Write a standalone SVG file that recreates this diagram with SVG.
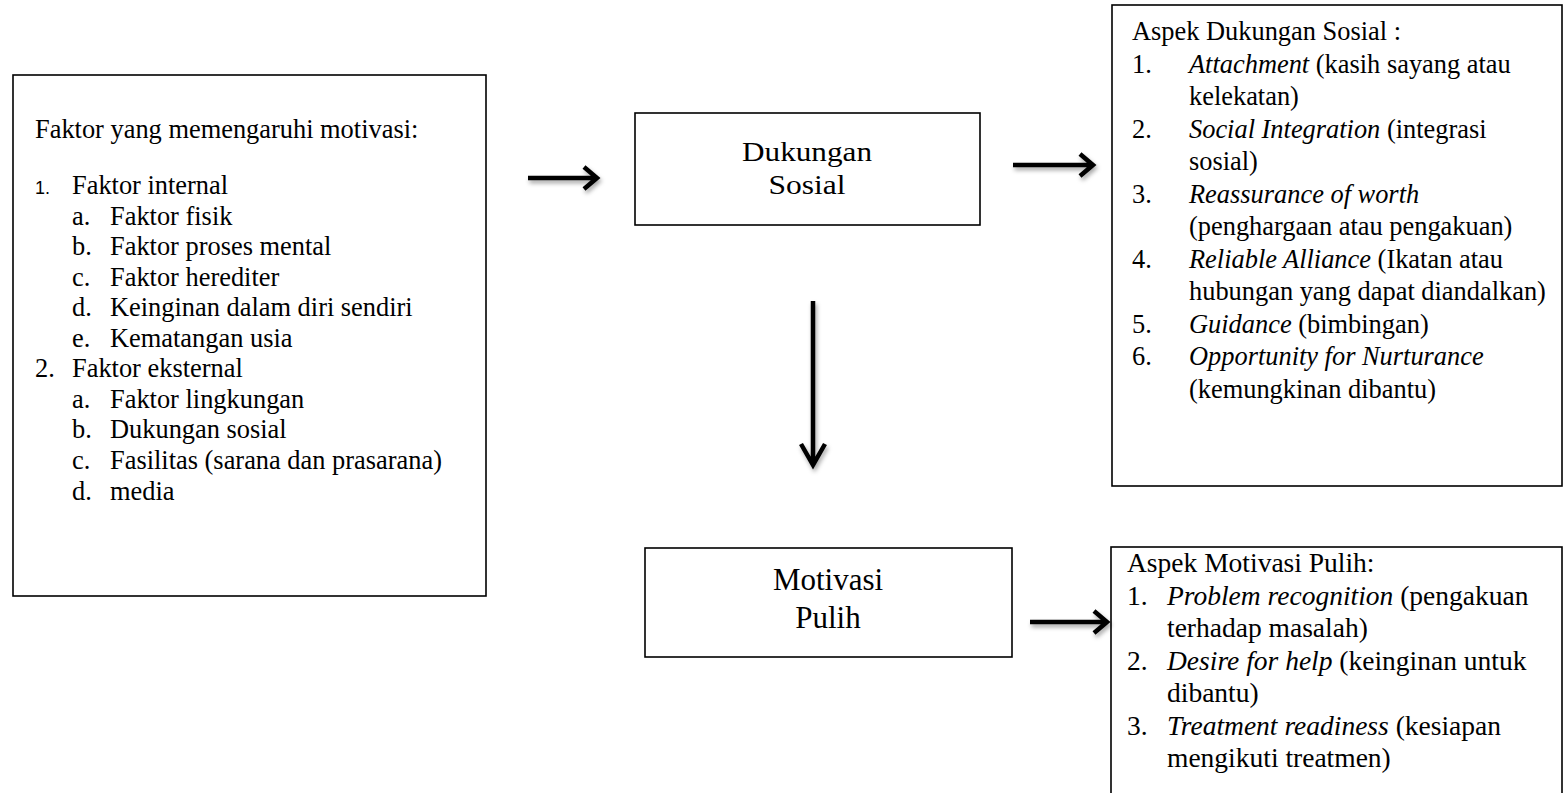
<svg xmlns="http://www.w3.org/2000/svg" width="1565" height="793" viewBox="0 0 1565 793">
<style>
.box{fill:#fff;stroke:#000;stroke-width:1.6}
.t{font-family:"Liberation Serif","Times New Roman",serif;font-size:26.4px;fill:#000}
.b{font-size:27.5px}
.n{font-family:"Liberation Sans",Arial,sans-serif;font-size:18px;fill:#000}
.i{font-style:italic}
.m{font-family:"Liberation Serif","Times New Roman",serif;font-size:31px;fill:#000;text-anchor:middle}
.arr{fill:none;stroke:#000;stroke-width:4.5;stroke-linecap:butt;stroke-linejoin:miter}
</style>
<defs>
<filter id="sh" x="-20%" y="-50%" width="140%" height="200%">
<feDropShadow dx="1.5" dy="3" stdDeviation="2" flood-color="#000" flood-opacity="0.35"/>
</filter>
</defs>
<rect width="1565" height="793" fill="#fff"/>

<g id="faktor">
<rect class="box" x="13" y="75" width="473" height="521" stroke-width="2.2"/>
<text class="t" x="35" y="138">Faktor yang memengaruhi motivasi:</text>
<text class="n" x="35" y="194">1.</text>
<text class="t" x="72" y="194">Faktor internal</text>
<text class="t" x="72" y="224.5">a.</text><text class="t" x="110" y="224.5">Faktor fisik</text>
<text class="t" x="72" y="255">b.</text><text class="t" x="110" y="255">Faktor proses mental</text>
<text class="t" x="72" y="285.6">c.</text><text class="t" x="110" y="285.6">Faktor herediter</text>
<text class="t" x="72" y="316.2">d.</text><text class="t" x="110" y="316.2">Keinginan dalam diri sendiri</text>
<text class="t" x="72" y="346.7">e.</text><text class="t" x="110" y="346.7">Kematangan usia</text>
<text class="t" x="35" y="377.3">2.</text><text class="t" x="72" y="377.3">Faktor eksternal</text>
<text class="t" x="72" y="407.8">a.</text><text class="t" x="110" y="407.8">Faktor lingkungan</text>
<text class="t" x="72" y="438.4">b.</text><text class="t" x="110" y="438.4">Dukungan sosial</text>
<text class="t" x="72" y="469">c.</text><text class="t" x="110" y="469">Fasilitas (sarana dan prasarana)</text>
<text class="t" x="72" y="499.5">d.</text><text class="t" x="110" y="499.5">media</text>
</g>

<g id="dukungan">
<rect class="box" x="635" y="113" width="345" height="112"/>
<text class="m" x="807" y="161" style="font-size:28px" textLength="130" lengthAdjust="spacingAndGlyphs">Dukungan</text>
<text class="m" x="807" y="194" style="font-size:28px" textLength="77" lengthAdjust="spacingAndGlyphs">Sosial</text>
</g>

<g id="motivasi">
<rect class="box" x="645" y="548" width="367" height="109"/>
<text class="m" x="828" y="590">Motivasi</text>
<text class="m" x="828" y="628">Pulih</text>
</g>

<g id="aspek-dukungan">
<rect class="box" x="1112" y="5" width="450" height="481"/>
<text class="t" x="1132" y="40">Aspek Dukungan Sosial :</text>
<text class="t" x="1132" y="72.5">1.</text><text class="t" x="1189" y="72.5"><tspan class="i">Attachment</tspan> (kasih sayang atau</text>
<text class="t" x="1189" y="105">kelekatan)</text>
<text class="t" x="1132" y="137.5">2.</text><text class="t" x="1189" y="137.5"><tspan class="i">Social Integration</tspan> (integrasi</text>
<text class="t" x="1189" y="170">sosial)</text>
<text class="t" x="1132" y="202.5">3.</text><text class="t" x="1189" y="202.5"><tspan class="i">Reassurance of worth</tspan></text>
<text class="t" x="1189" y="235">(penghargaan atau pengakuan)</text>
<text class="t" x="1132" y="267.5">4.</text><text class="t" x="1189" y="267.5"><tspan class="i">Reliable Alliance</tspan> (Ikatan atau</text>
<text class="t" x="1189" y="300">hubungan yang dapat diandalkan)</text>
<text class="t" x="1132" y="332.5">5.</text><text class="t" x="1189" y="332.5"><tspan class="i">Guidance</tspan> (bimbingan)</text>
<text class="t" x="1132" y="365">6.</text><text class="t" x="1189" y="365"><tspan class="i">Opportunity for Nurturance</tspan></text>
<text class="t" x="1189" y="397.5">(kemungkinan dibantu)</text>
</g>

<g id="aspek-motivasi">
<rect class="box" x="1111" y="547" width="451" height="300"/>
<text class="t b" x="1127" y="572">Aspek Motivasi Pulih:</text>
<text class="t b" x="1127" y="604.5">1.</text><text class="t b" x="1167" y="604.5"><tspan class="i">Problem recognition</tspan> (pengakuan</text>
<text class="t b" x="1167" y="637">terhadap masalah)</text>
<text class="t b" x="1127" y="669.5">2.</text><text class="t b" x="1167" y="669.5"><tspan class="i">Desire for help</tspan> (keinginan untuk</text>
<text class="t b" x="1167" y="702">dibantu)</text>
<text class="t b" x="1127" y="734.5">3.</text><text class="t b" x="1167" y="734.5"><tspan class="i">Treatment readiness</tspan> (kesiapan</text>
<text class="t b" x="1167" y="767">mengikuti treatmen)</text>
</g>

<g id="connectors" filter="url(#sh)">
<path class="arr" d="M528,178 H595 M584,167 L597,178 L584,189"/>
<path class="arr" d="M1013,165 H1091 M1080,154 L1093,165 L1080,176"/>
<path class="arr" d="M1030,622 H1105 M1094,611 L1107,622 L1094,633"/>
<path class="arr" d="M813,301 V463 M801,444 L813,465 L825,444"/>
</g>
</svg>
